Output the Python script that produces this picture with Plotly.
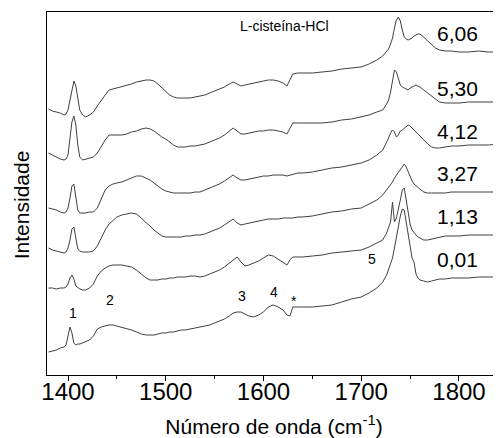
import plotly.graph_objects as go

wavenumber = [1380, 1384, 1388, 1392, 1396, 1398, 1400, 1402, 1404, 1406,
              1408, 1410, 1412, 1415, 1418, 1422, 1426, 1430, 1434, 1438,
              1442, 1446, 1450, 1455, 1460, 1465, 1470, 1475, 1480, 1484,
              1488, 1492, 1496, 1500, 1504, 1508, 1512, 1516, 1520, 1525,
              1530, 1535, 1540, 1545, 1550, 1555, 1560, 1565, 1569, 1573,
              1577, 1581, 1585, 1590, 1595, 1600, 1605, 1610, 1615, 1620,
              1624, 1627, 1630, 1635, 1640, 1650, 1660, 1670, 1680, 1690,
              1700, 1708, 1716, 1722, 1726, 1728, 1730, 1732, 1734, 1736,
              1738, 1740, 1742, 1744, 1746, 1748, 1750, 1752, 1754, 1756,
              1758, 1760, 1764, 1768, 1772, 1776, 1780, 1786, 1792, 1800,
              1810, 1820, 1830, 1842]

spec_606 = [266, 264, 263, 262, 260, 261, 265, 275, 287, 294,
            289, 275, 265, 260, 258, 260, 263, 269, 275, 280,
            285, 286, 287, 288, 289, 291, 293, 294, 295, 295,
            294, 291, 287, 283, 280, 278, 277, 277, 277, 277,
            278, 279, 280, 282, 284, 286, 288, 291, 293, 291,
            289, 290, 291, 292, 293, 294, 295, 295, 294, 292,
            289, 295, 301, 302, 302, 302, 303, 304, 306, 307,
            308, 311, 315, 319, 323, 326, 331, 337, 347, 355,
            358, 354, 345, 338, 336, 335, 336, 337, 339, 340,
            341, 341, 338, 334, 330, 327, 325, 324, 324, 323,
            323, 324, 323, 323]

spec_530 = [222, 220, 218, 216, 215, 216, 220, 235, 253, 259,
            250, 230, 218, 215, 216, 217, 218, 222, 229, 235,
            240, 240, 240, 240, 241, 243, 244, 246, 247, 246,
            244, 241, 238, 236, 233, 230, 228, 228, 228, 229,
            229, 230, 231, 233, 235, 237, 240, 244, 247, 244,
            241, 241, 242, 243, 244, 244, 245, 245, 244, 243,
            241, 247, 252, 252, 252, 252, 252, 253, 255, 256,
            258, 260, 263, 265, 271, 275, 283, 295, 305, 303,
            295, 290, 288, 287, 286, 285, 287, 288, 289, 290,
            289, 288, 285, 282, 279, 276, 273, 272, 272, 272,
            273, 273, 273, 273]

spec_412 = [167, 166, 165, 163, 162, 163, 167, 177, 189, 191,
            180, 165, 162, 162, 162, 163, 163, 167, 176, 185,
            189, 191, 192, 193, 195, 197, 199, 199, 197, 195,
            192, 189, 186, 184, 183, 182, 182, 182, 182, 182,
            183, 183, 185, 187, 189, 191, 194, 197, 200, 197,
            195, 195, 196, 197, 198, 199, 199, 200, 200, 200,
            199, 200, 201, 202, 202, 203, 205, 207, 208, 210,
            212, 215, 220, 225, 232, 237, 242, 245, 243, 238,
            240, 244, 245, 247, 249, 250, 249, 247, 244, 242,
            240, 238, 234, 231, 228, 227, 227, 228, 229, 229,
            230, 230, 230, 231]

spec_327 = [127, 125, 124, 123, 122, 123, 127, 135, 146, 148,
            138, 126, 124, 123, 123, 123, 124, 129, 137, 145,
            151, 155, 158, 160, 161, 162, 161, 157, 152, 149,
            145, 142, 139, 138, 138, 138, 138, 138, 139, 139,
            140, 140, 141, 143, 145, 147, 150, 153, 156, 152,
            150, 151, 152, 153, 154, 155, 156, 156, 156, 157,
            157, 157, 157, 158, 158, 159, 161, 163, 164, 166,
            167, 171, 175, 180, 185, 187, 190, 193, 197, 200,
            203, 206, 209, 211, 208, 203, 198, 194, 191, 189,
            187, 186, 183, 182, 182, 182, 182, 182, 183, 183,
            183, 183, 183, 183]

spec_113 = [87, 87, 86, 87, 87, 88, 91, 97, 100, 96,
            89, 87, 86, 85, 85, 87, 91, 99, 104, 107,
            109, 110, 110, 110, 109, 108, 105, 101, 97, 95,
            95, 95, 96, 96, 97, 97, 98, 98, 98, 99,
            99, 98, 99, 101, 103, 105, 108, 112, 115, 118,
            113, 109, 110, 112, 114, 117, 120, 119, 116, 113,
            110, 115, 118, 118, 118, 119, 120, 122, 123, 124,
            125, 128, 132, 135, 142, 147, 153, 173, 153, 157,
            165, 175, 185, 187, 175, 162, 151, 145, 142, 140,
            138, 137, 135, 135, 136, 137, 138, 139, 139, 139,
            140, 140, 140, 140]

spec_001 = [23, 24, 25, 27, 28, 30, 38, 48, 42, 32,
            30, 31, 31, 32, 33, 35, 39, 46, 48, 49,
            50, 50, 49, 48, 46, 45, 43, 41, 40, 40,
            40, 41, 42, 42, 43, 43, 44, 45, 45, 46,
            47, 48, 49, 50, 52, 54, 56, 59, 62, 63,
            63, 61, 59, 58, 60, 63, 68, 70, 68, 65,
            60, 59, 68, 68, 68, 68, 69, 70, 73, 76,
            78, 82, 87, 93, 100, 105, 110, 117, 127, 139,
            150, 159, 166, 165, 153, 141, 127, 117, 113, 101,
            97, 95, 94, 93, 94, 95, 96, 96, 97, 97,
            97, 98, 98, 98]

series_labels = ["6,06", "5,30", "4,12", "3,27", "1,13", "0,01"]
series = [spec_606, spec_530, spec_412, spec_327, spec_113, spec_001]

band_labels = ["1", "2", "3", "4", "*", "5"]
band_x = [1405, 1443, 1578, 1611, 1631, 1711]
band_y = [62, 75, 79, 83, 74, 116]

label_x = 1798
label_y = [342, 287, 244, 202, 159, 116]

FONT = "Liberation Sans, Arial, sans-serif"

fig = go.Figure()
for name, ys in zip(series_labels, series):
    fig.add_trace(go.Scatter(x=wavenumber, y=ys, mode="lines", name=name,
                             line=dict(color="#404040", width=1),
                             showlegend=False))

for t, y in zip(series_labels, label_y):
    fig.add_annotation(x=label_x, y=y, text=t, showarrow=False,
                       font=dict(family=FONT, size=21, color="black"))

for t, x, y in zip(band_labels, band_x, band_y):
    fig.add_annotation(x=x, y=y, text=t, showarrow=False,
                       font=dict(family=FONT, size=14, color="black"))

fig.add_annotation(x=1621, y=349, text="L-cisteína-HCl", showarrow=False,
                   font=dict(family=FONT, size=14, color="black"))

# y-axis title, placed as rotated text left of the frame
fig.add_annotation(xref="paper", yref="paper", x=-0.057, y=0.468,
                   xanchor="center", yanchor="middle", textangle=-90,
                   text="Intensidade", showarrow=False,
                   font=dict(family=FONT, size=21, color="black"))

# the page body adds an 8px offset, so the figure is sized to fill the rest
fig.update_layout(
    width=493, height=430,
    margin=dict(l=39, r=0, t=4, b=63),
    paper_bgcolor="white", plot_bgcolor="white",
    font=dict(family=FONT, color="black"),
    xaxis=dict(range=[1378.5, 1843], tickvals=[1400, 1500, 1600, 1700, 1800],
               ticks="outside", ticklen=5, tickwidth=1, tickcolor="black",
               ticklabelstandoff=-10,
               minor=dict(tickvals=[1450, 1550, 1650, 1750], ticks="outside",
                          ticklen=3, tickcolor="black"),
               showline=True, linecolor="black", linewidth=1, mirror=True,
               showgrid=False, zeroline=False, automargin=False,
               tickfont=dict(family=FONT, size=24, color="black"),
               title=dict(text="Número de onda (cm<sup>-1</sup>)",
                          font=dict(family=FONT, size=21, color="black"),
                          standoff=16)),
    yaxis=dict(range=[0, 363], showticklabels=False, ticks="",
               showline=True, linecolor="black", linewidth=1, mirror=False,
               showgrid=False, zeroline=False, automargin=False),
)

fig.write_html("out.html")
